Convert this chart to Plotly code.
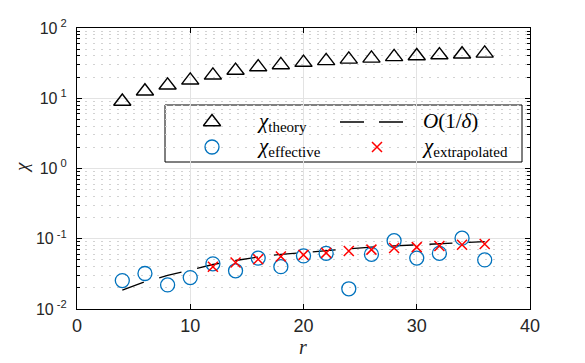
import plotly.graph_objects as go

# ---- data ----
r = [4, 6, 8, 10, 12, 14, 16, 18, 20, 22, 24, 26, 28, 30, 32, 34, 36]
chi_theory = [9.0, 12.6, 15.3, 18.0, 21.2, 24.8, 27.8, 29.8, 32.2, 34.0, 35.8, 37.0, 38.8, 40.0, 41.2, 42.3, 43.5]
chi_effective = [0.0254, 0.032, 0.022, 0.028, 0.044, 0.035, 0.053, 0.040, 0.057, 0.062,
                 0.0194, 0.060, 0.094, 0.053, 0.062, 0.102, 0.050]
r_extrap = [12, 14, 16, 18, 20, 22, 24, 26, 28, 30, 32, 34, 36]
chi_extrap = [0.040, 0.046, 0.051, 0.056, 0.059, 0.063, 0.067, 0.070, 0.074, 0.076, 0.079, 0.082, 0.084]
r_line = [4, 6, 8, 10, 12, 14, 16, 18, 20, 22, 24, 26, 28, 30, 32, 34, 36]
o_line = [0.0185, 0.0245, 0.030, 0.036, 0.043, 0.049, 0.055, 0.060, 0.064, 0.068,
          0.072, 0.076, 0.079, 0.082, 0.085, 0.088, 0.091]

ytick_vals = [0.01, 0.1, 1, 10, 100]
ytick_text = ["10<sup> -2</sup>", "10<sup> -1</sup>", "10<sup> 0</sup>", "10<sup> 1</sup>", "10<sup> 2</sup>"]
xtick_vals = [0, 10, 20, 30, 40]

BLUE = "#0072BD"
RED = "#FF0000"
OFF = 8                      # page body margin in the browser
WIN_W, WIN_H = 585, 363
PX0, PX1, PY0, PY1 = 77, 530, 28, 309   # plot area in window pixels
W, H = WIN_W - OFF, WIN_H - OFF
L, T = PX0 - OFF, PY0 - OFF
R = W - (PX1 - OFF)
B = H - (PY1 - OFF)
PW, PH = PX1 - PX0, PY1 - PY0

fig = go.Figure()
fig.add_trace(go.Scatter(x=r_line, y=o_line, mode="lines",
                         line=dict(color="black", width=1.3, dash="23px,16px"), showlegend=False))
fig.add_trace(go.Scatter(x=r, y=chi_theory, mode="markers",
                         marker=dict(symbol="triangle-up-open", size=15, color="black",
                                     line=dict(color="black", width=1.4)), showlegend=False))
fig.add_trace(go.Scatter(x=r, y=chi_effective, mode="markers",
                         marker=dict(symbol="circle-open", size=14, color=BLUE,
                                     line=dict(color=BLUE, width=1.3)), showlegend=False))
fig.add_trace(go.Scatter(x=r_extrap, y=chi_extrap, mode="markers",
                         marker=dict(symbol="x-thin-open", size=10, color=RED,
                                     line=dict(color=RED, width=1.5)), showlegend=False))

# ---- hand-made legend (overlay axes in pixel units of the plot area) ----
leg_row1, leg_row2 = PY1 - 122, PY1 - 147
fig.add_trace(go.Scatter(x=[212 - PX0], y=[leg_row1], xaxis="x2", yaxis="y2", mode="markers",
                         marker=dict(symbol="triangle-up-open", size=15, color="black",
                                     line=dict(color="black", width=1.4)), showlegend=False))
fig.add_trace(go.Scatter(x=[212 - PX0], y=[leg_row2], xaxis="x2", yaxis="y2", mode="markers",
                         marker=dict(symbol="circle-open", size=14, color=BLUE,
                                     line=dict(color=BLUE, width=1.3)), showlegend=False))
fig.add_trace(go.Scatter(x=[377 - PX0], y=[leg_row2], xaxis="x2", yaxis="y2", mode="markers",
                         marker=dict(symbol="x-thin-open", size=10, color=RED,
                                     line=dict(color=RED, width=1.5)), showlegend=False))
fig.add_trace(go.Scatter(x=[340 - PX0, 403 - PX0], y=[leg_row1, leg_row1], xaxis="x2", yaxis="y2",
                         mode="lines", line=dict(color="black", width=1.3, dash="24px,15px"),
                         showlegend=False))

def px_x(p):
    return (p - PX0) / PW

def px_y(p):
    return (PY1 - p) / PH

SERIF = "Liberation Serif, DejaVu Serif, serif"
SUB = "<sub><span style='font-size:15px'>%s</span></sub>"
ann = []
for txt, xp, yp in [("<i>χ</i>" + SUB % "theory", 255, 122),
                    ("<i>χ</i>" + SUB % "effective", 255, 147),
                    ("<i>O</i>(1/<i>δ</i>)", 421, 121),
                    ("<i>χ</i>" + SUB % "extrapolated", 420, 147)]:
    ann.append(dict(text=txt, x=px_x(xp), y=px_y(yp), xref="paper", yref="paper",
                    xanchor="left", yanchor="middle", showarrow=False,
                    font=dict(family=SERIF, size=21, color="black")))
# axis titles
ann.append(dict(text="<i>χ</i>", x=px_x(21), y=px_y(168), xref="paper", yref="paper",
                xanchor="center", yanchor="middle", showarrow=False, textangle=-90,
                font=dict(family=SERIF, size=19, color="#262626")))
ann.append(dict(text="<i>r</i>", x=px_x(303), y=px_y(347), xref="paper", yref="paper",
                xanchor="center", yanchor="middle", showarrow=False,
                font=dict(family=SERIF, size=20, color="#262626")))

shapes = [dict(type="rect", xref="paper", yref="paper",
               x0=px_x(165), x1=px_x(522), y0=px_y(162), y1=px_y(105),
               line=dict(color="black", width=1), fillcolor="white", layer="between")]

minor_vals = []
for e in [0.01, 0.1, 1, 10]:
    for k in range(2, 10):
        minor_vals.append(k * e)

fig.update_layout(
    width=W, height=H,
    margin=dict(l=L, r=R, t=T, b=B, pad=0, autoexpand=False),
    paper_bgcolor="white", plot_bgcolor="white",
    font=dict(family="Liberation Sans, Arial, sans-serif", color="black"),
    annotations=ann, shapes=shapes,
    xaxis=dict(range=[0, 40], tickvals=xtick_vals, ticks="inside", ticklen=5, tickwidth=1,
               tickcolor="black", showline=True, linecolor="black", linewidth=1, mirror="allticks",
               showgrid=True, gridcolor="#e3e3e3", gridwidth=1, zeroline=False, automargin=False,
               tickfont=dict(size=18, color="#262626")),
    yaxis=dict(type="log", range=[-2, 2], tickvals=ytick_vals, ticktext=ytick_text,
               ticks="inside", ticklen=5, tickwidth=1, tickcolor="black",
               showline=True, linecolor="black", linewidth=1, mirror="allticks",
               showgrid=True, gridcolor="#e3e3e3", gridwidth=1, zeroline=False, automargin=False,
               tickfont=dict(size=16, color="#262626"), ticklabelstandoff=6,
               minor=dict(tickvals=minor_vals, ticks="inside", ticklen=3, tickcolor="black",
                          showgrid=True, gridcolor="#d2d2d2", griddash="2px,6px", gridwidth=1)),
    xaxis2=dict(range=[0, PW], overlaying="x", visible=False, fixedrange=True),
    yaxis2=dict(range=[0, PH], overlaying="y", visible=False, fixedrange=True),
)

fig.write_html("out.html")
